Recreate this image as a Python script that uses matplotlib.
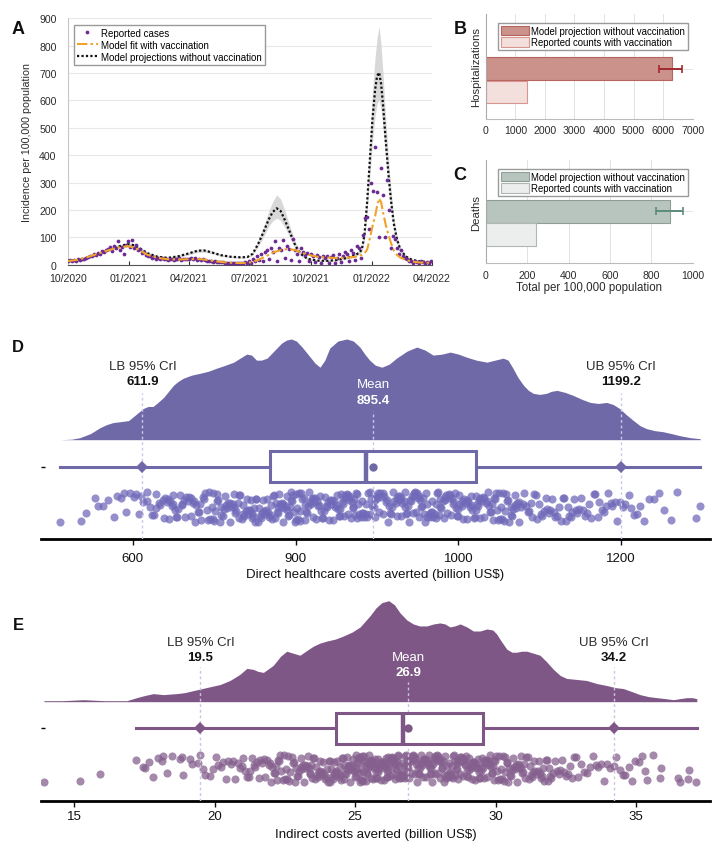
import numpy as np
import pandas as pd
import matplotlib
matplotlib.use('Agg')
import matplotlib.pyplot as plt
import matplotlib.dates as mdates
from matplotlib.patches import Patch

plt.rcParams['font.family'] = ['Liberation Sans', 'DejaVu Sans']

# ---------------- panel A: incidence per 100,000 ----------------
case_dates = pd.date_range('2020-10-01', '2022-04-01', freq='3D')
reported = [12, 16, 14, 18, 15, 20, 17, 22, 19, 24,
            27, 32, 30, 38, 35, 44, 40, 50, 45, 55,
            58, 64, 50, 70, 62, 85, 55, 66, 40, 72,
            88, 65, 91, 60, 72, 55, 58, 42, 46, 35,
            32, 30, 26, 28, 22, 25, 20, 23, 19, 22,
            18, 22, 20, 17, 21, 19, 23, 18, 20, 21,
            22, 19, 24, 20, 23, 18, 21, 17, 19, 16,
            15, 13, 14, 11, 12, 10, 11, 9, 10, 8,
            8, 6, 7, 5, 7, 6, 8, 5, 7, 9,
            8, 14, 6, 20, 12, 30, 18, 38, 14, 45,
            55, 20, 62, 45, 88, 15, 60, 52, 90, 25,
            70, 58, 18, 95, 55, 40, 12, 62, 45, 35,
            42, 15, 38, 30, 10, 35, 28, 8, 32, 25,
            30, 6, 28, 35, 8, 26, 40, 10, 32, 45,
            38, 15, 55, 42, 18, 70, 60, 25, 110, 170,
            175, 130, 300, 270, 430, 265, 100, 355, 255, 100,
            310, 200, 60, 105, 95, 60, 40, 55, 30, 25,
            22, 15, 12, 8, 14, 10, 6, 12, 9, 7,
            10, 8, 12]

curve_day = [0, 15, 30, 45, 60, 75, 90, 100, 110, 120, 135, 150, 165, 180, 195,
             205, 215, 230, 245, 260, 270, 278, 286, 294, 302, 308, 314, 320, 326,
             334, 342, 350, 360, 375, 390, 405, 420, 430, 437, 442, 446, 450, 454,
             458, 462, 465, 468, 471, 474, 478, 482, 486, 490, 495, 500, 508, 518,
             530, 546]
proj_novacc = [15, 17, 26, 38, 52, 66, 75, 71, 57, 42, 29, 25, 30, 40, 51,
               52, 46, 35, 29, 27, 28, 40, 75, 118, 165, 192, 206, 196, 165,
               118, 70, 40, 22, 15, 14, 17, 25, 33, 42, 55, 110, 230, 380,
               532, 640, 690, 702, 660, 580, 450, 330, 230, 150, 90, 55, 30, 17,
               12, 9]
proj_lo = [13, 15, 23, 35, 48, 61, 70, 66, 52, 38, 26, 22, 26, 35, 45,
           46, 41, 31, 26, 24, 25, 35, 65, 100, 140, 160, 170, 162, 138,
           98, 58, 33, 18, 12, 11, 14, 21, 28, 36, 46, 92, 195, 320,
           450, 545, 590, 600, 565, 495, 385, 280, 195, 128, 77, 47, 26, 14,
           10, 7]
proj_hi = [17, 19, 29, 41, 56, 71, 81, 77, 62, 46, 33, 29, 34, 45, 57,
           58, 51, 39, 32, 30, 31, 46, 86, 136, 195, 230, 255, 240, 200,
           140, 84, 48, 27, 18, 17, 21, 30, 39, 50, 66, 130, 270, 450,
           630, 760, 830, 870, 800, 690, 530, 390, 270, 176, 105, 64, 35, 20,
           14, 11]
fit_vacc = [13, 18, 28, 40, 52, 62, 68, 63, 50, 36, 25, 20, 19, 20, 21,
            19, 15, 10, 7, 6, 7, 10, 17, 26, 36, 44, 49, 53, 56,
            57, 53, 46, 37, 29, 26, 24, 26, 28, 31, 36, 42, 55, 95,
            140, 178, 215, 242, 228, 190, 145, 110, 78, 52, 35, 26, 17, 11,
            8, 7]

# ---------------- panels B and C: totals per 100,000 ----------------
hosp_proj, hosp_proj_lo, hosp_proj_hi, hosp_reported = 6290, 5860, 6640, 1390
death_proj, death_proj_lo, death_proj_hi, death_reported = 890, 821, 955, 241

# ---------------- panel D: direct costs (billion US$) ----------------
direct_kde_x = [511, 525, 535, 548, 560, 568, 576, 586, 595, 604, 613, 619, 625, 631, 638,
                644, 650, 656, 662, 672, 683, 693, 703, 714, 724, 732, 740, 746, 752, 758,
                765, 771, 777, 783, 789, 795, 801, 808, 818, 824, 830, 836, 842, 852, 863,
                871, 879, 885, 891, 898, 906, 915, 924, 937, 949, 959, 969, 980, 990, 1000,
                1010, 1022, 1035, 1045, 1055, 1061, 1067, 1073, 1080, 1086, 1092, 1100, 1108,
                1114, 1121, 1131, 1141, 1152, 1162, 1172, 1182, 1190, 1198, 1206, 1215, 1223,
                1231, 1241, 1251, 1262, 1272, 1285, 1297]
direct_kde_h = [0.00, 0.005, 0.02, 0.06, 0.12, 0.15, 0.17, 0.18, 0.19, 0.25, 0.31, 0.33,
                0.33, 0.37, 0.42, 0.48, 0.54, 0.58, 0.61, 0.64, 0.66, 0.68, 0.71, 0.74, 0.77,
                0.81, 0.85, 0.84, 0.79, 0.79, 0.81, 0.86, 0.91, 0.96, 0.99, 1.00, 0.98, 0.92,
                0.82, 0.76, 0.72, 0.79, 0.91, 0.98, 1.00, 0.98, 0.92, 0.85, 0.79, 0.74, 0.72,
                0.75, 0.81, 0.88, 0.92, 0.89, 0.84, 0.85, 0.87, 0.85, 0.82, 0.79, 0.77, 0.79,
                0.81, 0.79, 0.71, 0.62, 0.54, 0.49, 0.46, 0.45, 0.46, 0.48, 0.49, 0.47, 0.44,
                0.40, 0.37, 0.36, 0.37, 0.35, 0.31, 0.25, 0.19, 0.14, 0.11, 0.09, 0.08, 0.06,
                0.04, 0.02, 0.01]
direct_samples = [
    511, 536, 543, 554, 557, 563, 570, 577, 581, 586, 589, 592, 597,
    601, 604, 608, 610, 613, 617, 618, 621, 624,
    626, 628, 629, 632, 634, 637, 638, 640, 642, 643, 645, 646, 648, 649,
    650, 652, 653, 655, 656, 658, 660, 661, 663, 664, 666, 668, 669, 671, 672, 674,
    675, 677, 678, 680, 681, 683, 684, 686, 688, 689, 691, 692, 694, 695, 697, 698, 699,
    700, 701, 703, 704, 705, 707, 708, 709, 711, 712, 713, 715, 716, 717, 719, 720, 721,
    723, 724,
    725, 726, 727, 729, 730, 731, 732, 734, 735, 736, 737, 739, 740, 741, 742, 744, 745,
    746, 747, 748, 749,
    750, 751, 752, 754, 755, 756, 757, 759, 760, 761, 762, 764, 765, 766, 767, 769, 770,
    771, 772, 774,
    775, 776, 777, 778, 779, 780, 781, 782, 783, 784, 785, 786, 788, 789, 790, 791, 792,
    793, 794, 795, 796, 797, 798, 799,
    800, 801, 802, 803, 804, 805, 806, 807, 808, 810, 811, 812, 813, 814, 815, 816, 818,
    819, 820, 821, 822, 823, 824,
    825, 826, 827, 829, 830, 831, 832, 834, 835, 836, 837, 839, 840, 841, 842, 844, 845,
    846, 847, 849,
    850, 851, 852, 853, 854, 855, 856, 857, 858, 859, 860, 861, 862, 863, 864, 865, 866,
    867, 868, 869, 870, 871, 872, 873, 874,
    875, 876, 877, 878, 880, 881, 882, 883, 884, 886, 887, 888, 889, 891, 892, 893, 894,
    896, 897, 898, 899,
    900, 901, 903, 904, 905, 907, 908, 909, 911, 912, 913, 915, 916, 917, 919, 920, 921,
    923, 924,
    925, 926, 927, 928, 929, 930, 931, 933, 934, 935, 936, 937, 938, 939, 941, 942, 943,
    944, 945, 946, 947, 948, 949,
    950, 951, 952, 953, 954, 955, 957, 958, 959, 960, 961, 962, 964, 965, 966, 967, 968,
    969, 971, 972, 973, 974,
    975, 976, 977, 978, 979, 981, 982, 983, 984, 985, 986, 988, 989, 990, 991, 992, 993,
    995, 996, 997, 998, 999,
    1000, 1001, 1002, 1004, 1005, 1006, 1007, 1009, 1010, 1011, 1012, 1014, 1015, 1016,
    1017, 1019, 1020, 1021, 1022, 1023, 1024,
    1025, 1026, 1027, 1029, 1030, 1031, 1032, 1034, 1035, 1036, 1037, 1039, 1040, 1041,
    1042, 1044, 1045, 1046, 1047, 1049,
    1050, 1051, 1052, 1054, 1055, 1056, 1057, 1059, 1060, 1061, 1062, 1064, 1065, 1066,
    1067, 1069, 1070, 1071, 1072, 1074,
    1075, 1077, 1079, 1081, 1083, 1085, 1087, 1089, 1091, 1093, 1095, 1097, 1099,
    1101, 1103, 1105, 1107, 1109, 1111, 1113, 1115, 1117, 1119, 1121, 1123,
    1126, 1128, 1130, 1132, 1134, 1136, 1138, 1140, 1142, 1144, 1146, 1148,
    1151, 1153, 1156, 1158, 1161, 1163, 1166, 1168, 1171, 1173,
    1176, 1179, 1181, 1184, 1187, 1189, 1192, 1195, 1198,
    1202, 1205, 1209, 1212, 1216, 1219, 1223, 1228, 1234, 1240, 1246,
    1253, 1261, 1268, 1292, 1297]
direct_box = [511, 769, 887, 1021, 1297]   # whisker low, q1, median, q3, whisker high
direct_lb, direct_mean, direct_ub = 611.9, 895.4, 1199.2
direct_ticks = [600, 800, 1000, 1200]
direct_ticklabels = ['600', '900', '1000', '1200']

# ---------------- panel E: indirect costs (billion US$) ----------------
indirect_kde_x = [13.93, 14.6, 15.33, 16.1, 16.88, 17.23, 17.5, 17.82, 18.18, 18.65, 18.95,
                  19.25, 19.72, 20.2, 20.55, 20.9, 21.15, 21.38, 21.55, 21.74, 22.09, 22.35,
                  22.57, 22.8, 23.04, 23.3, 23.52, 23.75, 23.99, 24.3, 24.58, 24.9, 25.18,
                  25.53, 25.75, 25.95, 26.2, 26.4, 26.6, 26.84, 27.07, 27.3, 27.55, 27.8,
                  28.02, 28.2, 28.38, 28.55, 28.74, 28.98, 29.21, 29.45, 29.69, 29.9, 30.04,
                  30.2, 30.4, 30.58, 30.75, 30.93, 31.11, 31.35, 31.58, 31.8, 32.06, 32.3,
                  32.53, 32.9, 33.24, 33.6, 33.96, 34.25, 34.55, 34.85, 35.14, 35.45, 35.74,
                  36.05, 36.33, 36.55, 36.8, 37.0, 37.16]
indirect_kde_h = [0.01, 0.01, 0.02, 0.01, 0.01, 0.04, 0.06, 0.08, 0.07, 0.08, 0.09, 0.11,
                  0.14, 0.17, 0.21, 0.27, 0.33, 0.32, 0.30, 0.29, 0.36, 0.45, 0.50, 0.48,
                  0.46, 0.51, 0.55, 0.58, 0.60, 0.62, 0.65, 0.69, 0.74, 0.85, 0.93, 0.98,
                  1.00, 0.96, 0.88, 0.81, 0.77, 0.75, 0.75, 0.77, 0.78, 0.77, 0.74, 0.75,
                  0.77, 0.74, 0.70, 0.70, 0.72, 0.71, 0.67, 0.60, 0.52, 0.49, 0.49, 0.50,
                  0.50, 0.48, 0.46, 0.40, 0.32, 0.26, 0.23, 0.22, 0.21, 0.18, 0.16, 0.14,
                  0.13, 0.10, 0.07, 0.05, 0.04, 0.03, 0.02, 0.03, 0.04, 0.04, 0.03]
indirect_samples = [
    13.93, 15.2, 15.93,
    17.21, 17.47, 17.53, 17.68, 17.82, 18.0, 18.12, 18.18, 18.3, 18.48, 18.77, 18.83,
    18.89, 19.13, 19.19, 19.42, 19.48, 19.6, 19.66, 19.84, 19.96,
    20.05, 20.14, 20.22, 20.31, 20.4, 20.48, 20.57, 20.66, 20.74, 20.83, 20.91, 20.98,
    21.03, 21.09, 21.15, 21.21, 21.27, 21.33, 21.39, 21.45, 21.51, 21.57, 21.63, 21.69,
    21.75, 21.81, 21.87, 21.93, 21.98,
    22.02, 22.06, 22.1, 22.14, 22.18, 22.22, 22.26, 22.3, 22.34, 22.38, 22.42, 22.46,
    22.5, 22.54, 22.58, 22.62, 22.66, 22.7, 22.74, 22.78, 22.82, 22.86, 22.9, 22.94, 22.98,
    23.02, 23.06, 23.08, 23.13, 23.15, 23.19, 23.22, 23.24, 23.29, 23.31, 23.35, 23.38,
    23.41, 23.44, 23.48, 23.51, 23.53, 23.58, 23.61, 23.63, 23.67, 23.7, 23.74, 23.76,
    23.8, 23.83, 23.86, 23.9, 23.93, 23.97,
    24.01, 24.03, 24.07, 24.1, 24.12, 24.15, 24.18, 24.2, 24.24, 24.26, 24.29, 24.31,
    24.34, 24.37, 24.4, 24.42, 24.45, 24.48, 24.5, 24.53, 24.56, 24.59, 24.61, 24.64,
    24.67, 24.7, 24.72, 24.75, 24.78, 24.8, 24.83, 24.86, 24.88, 24.91, 24.94, 24.96, 24.99,
    25.02, 25.04, 25.05, 25.08, 25.1, 25.12, 25.13, 25.16, 25.18, 25.2, 25.21, 25.24,
    25.26, 25.27, 25.3, 25.32, 25.33, 25.36, 25.38, 25.4, 25.42, 25.43, 25.46, 25.48,
    25.49, 25.52, 25.54, 25.55, 25.58, 25.6, 25.62, 25.63, 25.66, 25.68, 25.7, 25.71,
    25.74, 25.76, 25.77, 25.8, 25.82, 25.84, 25.86, 25.88, 25.91, 25.93, 25.96,
    26.01, 26.03, 26.04, 26.06, 26.08, 26.1, 26.12, 26.13, 26.15, 26.17, 26.19, 26.21,
    26.22, 26.24, 26.26, 26.28, 26.3, 26.31, 26.33, 26.35, 26.37, 26.39, 26.41, 26.42,
    26.44, 26.46, 26.48, 26.5, 26.52, 26.54, 26.56, 26.58, 26.6, 26.62, 26.64, 26.66,
    26.68, 26.7, 26.72, 26.74, 26.76, 26.78, 26.8, 26.82, 26.84, 26.86, 26.88, 26.9,
    26.93, 26.95, 26.98,
    27.01, 27.04, 27.06, 27.08, 27.1, 27.13, 27.15, 27.17, 27.2, 27.22, 27.25, 27.27,
    27.29, 27.32, 27.34, 27.36, 27.39, 27.41, 27.43, 27.46, 27.48, 27.5, 27.53, 27.55,
    27.58, 27.6, 27.62, 27.65, 27.67, 27.69, 27.72, 27.74, 27.77, 27.79, 27.81, 27.84,
    27.86, 27.89, 27.91, 27.93, 27.96, 27.98,
    28.02, 28.04, 28.07, 28.09, 28.11, 28.14, 28.16, 28.18, 28.21, 28.23, 28.26, 28.28,
    28.3, 28.33, 28.35, 28.37, 28.4, 28.42, 28.45, 28.47, 28.49, 28.52, 28.54, 28.56,
    28.59, 28.61, 28.64, 28.66, 28.68, 28.71, 28.73, 28.75, 28.78, 28.8, 28.83, 28.85,
    28.87, 28.9, 28.92, 28.94, 28.97, 28.99,
    29.01, 29.04, 29.06, 29.09, 29.12, 29.14, 29.17, 29.19, 29.22, 29.24, 29.27, 29.3,
    29.32, 29.35, 29.37, 29.4, 29.42, 29.45, 29.48, 29.5, 29.53, 29.55, 29.58, 29.6,
    29.63, 29.66, 29.68, 29.71, 29.73, 29.76, 29.78, 29.81, 29.84, 29.86, 29.89, 29.91,
    29.94, 29.96, 29.99,
    30.02, 30.05, 30.09, 30.12, 30.15, 30.19, 30.22, 30.25, 30.29, 30.32, 30.35, 30.39,
    30.42, 30.45, 30.49, 30.52, 30.55, 30.59, 30.62, 30.65, 30.69, 30.72, 30.75, 30.79,
    30.82, 30.85, 30.89, 30.92, 30.95, 30.98,
    31.02, 31.06, 31.1, 31.14, 31.18, 31.22, 31.26, 31.3, 31.34, 31.38, 31.42, 31.46,
    31.5, 31.54, 31.58, 31.62, 31.66, 31.7, 31.74, 31.78, 31.82, 31.86, 31.9, 31.94, 31.98,
    32.04, 32.11, 32.18, 32.25, 32.31, 32.38, 32.45, 32.52, 32.59, 32.66, 32.73, 32.8,
    32.87, 32.94,
    33.05, 33.15, 33.26, 33.35, 33.45, 33.56, 33.64, 33.75, 33.86, 33.95,
    34.08, 34.2, 34.3, 34.43, 34.55, 34.62, 34.74, 34.85, 34.96,
    35.1, 35.22, 35.3, 35.38, 35.6, 35.85, 35.9,
    36.5, 36.58, 36.86, 36.9, 37.12]
indirect_box = [17.2, 24.32, 26.7, 29.54, 37.16]
indirect_lb, indirect_mean, indirect_ub = 19.5, 26.9, 34.2
indirect_ticks = [15, 20, 25, 30, 35]
indirect_ticklabels = ['15', '20', '25', '30', '35']

# ---------------------------------------------------------------
W, H = 724, 853
fig = plt.figure(figsize=(W / 100, H / 100), dpi=100)


def rect(l, t, r, b):
    # pixel box (from the top-left corner) -> figure fraction
    return [l / W, 1 - b / H, (r - l) / W, (b - t) / H]


TXT = '#2b2b2b'

# ---- A ----
axA = fig.add_axes(rect(67.7, 19.3, 431.7, 265.7))
curve_dates = pd.Timestamp('2020-10-01') + pd.to_timedelta(curve_day, unit='D')
axA.fill_between(curve_dates, proj_lo, proj_hi, color='#D8D8D8', lw=0, zorder=1)
l_proj, = axA.plot(curve_dates, proj_novacc, ls=(0, (1, 1)), color='#111111', lw=1.6,
                   zorder=3, label='Model projections without vaccination')
l_rep, = axA.plot(case_dates, reported, 'o', ms=2.7, mew=0, color='#6B2B93', zorder=4,
                  label='Reported cases')
l_fit, = axA.plot(curve_dates, fit_vacc, ls=(0, (5, 1.5, 1.2, 1.5)), color='#F0A22A',
                  lw=1.5, zorder=5, label='Model fit with vaccination')
axA.set_xlim(pd.Timestamp('2020-10-01'), pd.Timestamp('2022-04-01'))
axA.xaxis.set_major_locator(mdates.MonthLocator(bymonth=[1, 4, 7, 10]))
axA.xaxis.set_major_formatter(mdates.DateFormatter('%m/%Y'))
axA.set_ylim(0, 900)
axA.set_yticks(range(0, 901, 100))
axA.grid(axis='y', color='#E8E8E8', lw=0.8)
axA.set_axisbelow(True)
for s in ['top', 'right']:
    axA.spines[s].set_visible(False)
axA.spines['left'].set_color('#C8C8C8')
axA.spines['bottom'].set_color('#555555')
axA.tick_params(axis='x', direction='in', length=3, labelsize=7.6, colors=TXT, pad=6)
axA.tick_params(axis='y', length=0, labelsize=7.6, colors=TXT, pad=8)
axA.set_ylabel('Incidence per 100,000 population', fontsize=7.7, color=TXT)
axA.yaxis.set_label_coords(-0.097, 0.5)
axA.legend(handles=[l_rep, l_fit, l_proj], loc='upper left', bbox_to_anchor=(0.017, 0.973),
           fontsize=7, numpoints=1, frameon=True, fancybox=False, framealpha=1,
           edgecolor='#9a9a9a', borderpad=0.3, labelspacing=0.2, handlelength=2.2,
           handletextpad=0.3, borderaxespad=0)


# ---- B and C ----
def total_bars(ax, proj, lo, hi, rep, cols, ylab, xmax, step, ylim):
    dark, dark_ec, light, light_ec, err = cols
    ax.barh(1, proj, height=0.97, color=dark, edgecolor=dark_ec, lw=0.8, zorder=2)
    ax.barh(0, rep, height=0.97, color=light, edgecolor=light_ec, lw=0.8, zorder=2)
    ax.errorbar(proj, 1, xerr=[[proj - lo], [hi - proj]], fmt='none', ecolor=err,
                elinewidth=1.4, capsize=3, capthick=1.2, zorder=3)
    ax.set_xlim(0, xmax)
    ax.set_ylim(*ylim)
    ax.set_xticks(np.arange(0, xmax + 1, step))
    ax.set_yticks([1])
    ax.set_yticklabels([''])
    ax.grid(True, color='#E2E2E2', lw=0.7)
    ax.set_axisbelow(True)
    for s in ['top', 'right']:
        ax.spines[s].set_visible(False)
    ax.spines['left'].set_color('#AAAAAA')
    ax.spines['bottom'].set_color('#BBBBBB')
    ax.tick_params(axis='x', length=0, labelsize=7.6, colors=TXT, pad=4.5)
    ax.tick_params(axis='y', direction='in', length=3, colors='#444444')
    ax.set_ylabel(ylab, fontsize=8.2, color=TXT)
    ax.yaxis.set_label_coords(-0.02, 0.5)
    ax.legend(handles=[Patch(fc=dark, ec=dark_ec, lw=0.8), Patch(fc=light, ec=light_ec, lw=0.8)],
              labels=['Model projection without vaccination', 'Reported counts with vaccination'],
              loc='upper left', bbox_to_anchor=(0.059, 0.914), fontsize=6.9, frameon=True,
              fancybox=False, framealpha=1, edgecolor='#9a9a9a', borderpad=0.3,
              labelspacing=0.15, handlelength=2.9, handleheight=1.1, handletextpad=0.3,
              borderaxespad=0)


axB = fig.add_axes(rect(485.7, 15, 692.7, 120))
total_bars(axB, hosp_proj, hosp_proj_lo, hosp_proj_hi, hosp_reported,
           ('#CB918B', '#B8645E', '#F3E0DD', '#D9958F', '#A3282F'),
           'Hospitalizations', 7000, 1000, (-1.159, 3.348))
axC = fig.add_axes(rect(485.7, 161, 692.7, 264.3))
total_bars(axC, death_proj, death_proj_lo, death_proj_hi, death_reported,
           ('#B7C5BE', '#8E9F97', '#ECEEED', '#B0B6B3', '#5E8C7A'),
           'Deaths', 1000, 200, (-1.241, 3.211))
axC.set_xlabel('Total per 100,000 population', fontsize=8.3, color=TXT)
axC.xaxis.set_label_coords(0.5, -0.174)


# ---- D and E: raincloud panels ----
def raincloud(ax, kde_x, kde_h, samples, box5, lb, mean, ub, ticks, ticklabels, xlim,
              xlabel, color, dotc, guide, lay):
    base, scale = lay['base'], lay['scale']
    ax.fill_between(kde_x, base, base + np.asarray(kde_h) * scale, color=color, lw=0, zorder=2)
    stats = [dict(whislo=box5[0], q1=box5[1], med=box5[2], q3=box5[3], whishi=box5[4],
                  fliers=[])]
    ax.bxp(stats, positions=[lay['box_y']], widths=lay['box_h'], orientation='horizontal',
           showfliers=False, showcaps=False, patch_artist=True, manage_ticks=False,
           boxprops=dict(facecolor='white', edgecolor=color, lw=2.2),
           whiskerprops=dict(color=color, lw=2.2),
           medianprops=dict(color=color, lw=3.2), zorder=4)
    ax.plot([lb, ub], [lay['box_y']] * 2, 'D', ms=6, color=color, mew=0, zorder=5)
    ax.plot([mean], [lay['box_y']], 'o', ms=6, color=color, mew=0, zorder=5)
    # deterministic jitter inside the strip (quadratic Weyl sequence)
    idx = np.arange(len(samples), dtype=float)
    jit = np.mod(idx * idx * 0.6180339887 + idx * 0.4142135624, 1.0)
    ax.scatter(samples, lay['dot_lo'] + jit * (lay['dot_hi'] - lay['dot_lo']), s=34,
               color=dotc, alpha=0.74, lw=0, zorder=3)
    ax.vlines([lb, ub], 0, lay['guide_top'], colors=guide, linestyles=(0, (2, 2)), lw=1,
              zorder=3.5)
    ax.vlines([mean], 0, lay['mean_top'], colors=guide, linestyles=(0, (2, 2)), lw=1,
              zorder=3.5)
    for v, name in [(lb, 'LB 95% CrI'), (ub, 'UB 95% CrI')]:
        ax.text(v, lay['lab_y'], name, ha='center', va='center', fontsize=9.5, color=TXT)
        ax.text(v, lay['val_y'], f'{v:.1f}', ha='center', va='center', fontsize=9.5,
                weight='bold', color='#111111')
    ax.text(mean, lay['mean_lab_y'], 'Mean', ha='center', va='center', fontsize=9.5,
            color='white', zorder=6)
    ax.text(mean, lay['mean_val_y'], f'{mean:.1f}', ha='center', va='center', fontsize=9.5,
            weight='bold', color='white', zorder=6)
    ax.set_xlim(*xlim)
    ax.set_ylim(0, 205)
    for s in ['top', 'right', 'left']:
        ax.spines[s].set_visible(False)
    ax.spines['bottom'].set_linewidth(2)
    ax.spines['bottom'].set_color('black')
    ax.set_xticks(ticks)
    ax.set_xticklabels(ticklabels)
    ax.tick_params(axis='x', length=4, width=1, labelsize=9.5, pad=lay['pad'], colors='#111111')
    ax.set_yticks([lay['box_y']])
    ax.set_yticklabels([''])
    ax.tick_params(axis='y', direction='in', length=3, width=1)
    ax.set_xlabel(xlabel, fontsize=9.5, color='#111111', labelpad=lay['labelpad'])


axD = fig.add_axes(rect(40.7, 335, 710, 540))
raincloud(axD, direct_kde_x, direct_kde_h, direct_samples, direct_box,
          direct_lb, direct_mean, direct_ub, direct_ticks, direct_ticklabels, (487, 1309),
          'Direct healthcare costs averted (billion US$)', '#6F69A8', '#7069B9', '#CBC7EA',
          dict(base=99.3, scale=100.7, box_y=72.5, box_h=30.4, dot_lo=16.7, dot_hi=47.3,
               guide_top=145.7, mean_top=128.3, lab_y=173.3, val_y=158.3,
               mean_lab_y=154.7, mean_val_y=139.3, pad=5.5, labelpad=2.7))

axE = fig.add_axes(rect(40.7, 597, 710, 802))
raincloud(axE, indirect_kde_x, indirect_kde_h, indirect_samples, indirect_box,
          indirect_lb, indirect_mean, indirect_ub, indirect_ticks, indirect_ticklabels,
          (13.815, 37.63), 'Indirect costs averted (billion US$)', '#7E5786', '#85608E',
          '#CBC4DE',
          dict(base=99.3, scale=101, box_y=72.7, box_h=31, dot_lo=18.7, dot_hi=46.3,
               guide_top=133.7, mean_top=118.7, lab_y=159.3, val_y=143.7,
               mean_lab_y=144.3, mean_val_y=129.3, pad=2.5, labelpad=4.5))

# ---- panel letters ----
for lab, x, y, fs in [('A', 18.3, 30, 13), ('B', 460, 30, 13), ('C', 459.3, 175, 13),
                      ('D', 18.3, 347.3, 12), ('E', 18.3, 625, 12)]:
    fig.text(x / W, 1 - y / H, lab, ha='center', va='center', fontsize=fs,
             weight='bold', color='#111111')

fig.savefig('out.png', dpi=100)
